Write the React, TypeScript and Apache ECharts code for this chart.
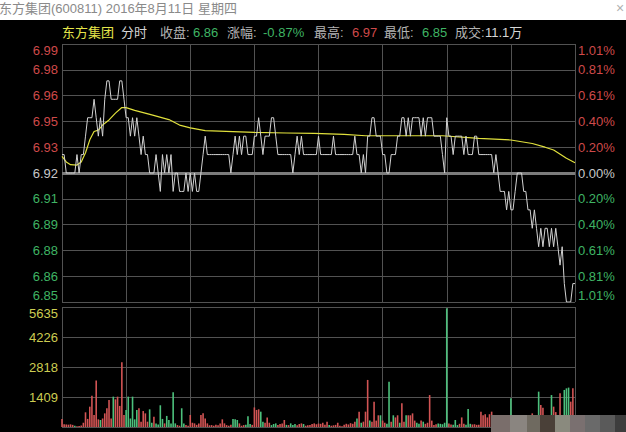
import React, { useEffect, useRef } from "react";
import * as echarts from "echarts";

const FONT = "'Liberation Sans', Arial, 'Noto Sans CJK SC', sans-serif";
const RED = "#cf4a4a";
const GREEN = "#3fb464";
const VOL_RED = "#d25454";
const VOL_GREEN = "#4cc07c";
const GRID_COLOR = "#525252";

const title = "东方集团(600811) 2016年8月11日 星期四";
const prevClose = 6.92;
const priceMin = 6.85;
const priceMax = 6.99;
const priceStep = 0.014;
const volMax = 5635;

// minute-by-minute price (0 = 9:30 ... 240 = 15:00)
const prices = [
  6.93, 6.93, 6.92, 6.92, 6.92, 6.92, 6.92, 6.93, 6.92, 6.93,
  6.93, 6.94, 6.95, 6.95, 6.95, 6.96, 6.95, 6.94, 6.95, 6.94,
  6.96, 6.97, 6.97, 6.96, 6.96, 6.96, 6.96, 6.97, 6.97, 6.96,
  6.95, 6.95, 6.94, 6.95, 6.94, 6.95, 6.94, 6.93, 6.94, 6.93,
  6.93, 6.92, 6.92, 6.92, 6.93, 6.92, 6.91, 6.93, 6.92, 6.93,
  6.92, 6.93, 6.91, 6.92, 6.92, 6.91, 6.91, 6.91, 6.92, 6.91,
  6.92, 6.91, 6.92, 6.91, 6.91, 6.92, 6.93, 6.94, 6.93, 6.93,
  6.93, 6.93, 6.93, 6.93, 6.93, 6.93, 6.93, 6.93, 6.93, 6.92,
  6.93, 6.94, 6.93, 6.94, 6.93, 6.94, 6.94, 6.93, 6.93, 6.93,
  6.94, 6.94, 6.95, 6.94, 6.93, 6.94, 6.94, 6.94, 6.95, 6.95,
  6.94, 6.93, 6.93, 6.93, 6.93, 6.93, 6.93, 6.93, 6.92, 6.93,
  6.94, 6.93, 6.94, 6.93, 6.93, 6.93, 6.93, 6.93, 6.93, 6.93,
  6.94, 6.93, 6.93, 6.93, 6.93, 6.93, 6.93, 6.94, 6.93, 6.93,
  6.93, 6.93, 6.93, 6.93, 6.93, 6.93, 6.93, 6.94, 6.93, 6.93,
  6.92, 6.93, 6.92, 6.94, 6.94, 6.95, 6.95, 6.94, 6.94, 6.94,
  6.93, 6.93, 6.92, 6.92, 6.93, 6.93, 6.93, 6.94, 6.94, 6.95,
  6.95, 6.94, 6.95, 6.94, 6.95, 6.95, 6.95, 6.95, 6.94, 6.95,
  6.94, 6.95, 6.95, 6.95, 6.94, 6.94, 6.94, 6.94, 6.93, 6.92,
  6.95, 6.94, 6.94, 6.93, 6.94, 6.94, 6.94, 6.94, 6.93, 6.94,
  6.93, 6.93, 6.93, 6.94, 6.94, 6.93, 6.93, 6.93, 6.93, 6.93,
  6.93, 6.93, 6.92, 6.93, 6.92, 6.91, 6.91, 6.91, 6.90, 6.91,
  6.90, 6.90, 6.91, 6.92, 6.92, 6.92, 6.91, 6.91, 6.90, 6.90,
  6.89, 6.90, 6.89, 6.88, 6.89, 6.88, 6.89, 6.89, 6.88, 6.89,
  6.88, 6.89, 6.88, 6.87, 6.88, 6.86, 6.85, 6.85, 6.85, 6.86,
  6.86,
];

// average price line, read as [minute, price]
const avgPoints = [
  [0, 6.929], [2, 6.926], [4, 6.9245], [7, 6.9243], [9, 6.926], [11, 6.931],
  [13, 6.938], [15, 6.9425], [17, 6.9433], [19, 6.946], [22, 6.9488], [25, 6.9525],
  [28, 6.9555], [30, 6.9555], [34, 6.954], [42, 6.9515], [50, 6.949], [55, 6.946],
  [60, 6.9445], [67, 6.943], [80, 6.9425], [90, 6.942], [105, 6.9417], [118, 6.9415],
  [132, 6.941], [142, 6.9402], [178, 6.9402], [195, 6.9388], [210, 6.9379], [220, 6.936],
  [226, 6.934], [230, 6.9325], [236, 6.928], [240, 6.9256],
];

const volumes = [
  375, 130, 120, 110, 125, 100, 60, 40, 50, 70,
  200, 690, 380, 955, 1470, 560, 2180, 360, 330, 400,
  640, 880, 1270, 400, 1425, 1300, 1425, 990, 3040, 560,
  800, 1425, 400, 1425, 360, 800, 880, 250, 750, 640,
  250, 830, 200, 485, 170, 120, 1020, 380, 170, 520,
  330, 170, 1630, 170, 90, 60, 880, 170, 90, 60,
  565, 200, 170, 100, 170, 565, 640, 400, 170, 80,
  90, 60, 100, 80, 170, 360, 170, 90, 60, 100,
  375, 360, 330, 170, 60, 90, 100, 500, 140, 100,
  920, 800, 830, 720, 250, 200, 450, 200, 90, 140,
  170, 90, 140, 170, 330, 100, 90, 170, 90, 140,
  80, 140, 170, 140, 60, 80, 90, 140, 170, 130,
  160, 150, 200, 100, 250, 90, 60, 80, 100, 200,
  60, 40, 100, 150, 120, 180, 150, 250, 400, 720,
  200, 250, 720, 2210, 300, 250, 1190, 300, 550, 550,
  300, 200, 150, 2130, 250, 550, 450, 550, 200, 1110,
  250, 550, 550, 550, 640, 300, 200, 150, 300, 250,
  150, 200, 1500, 300, 90, 130, 170, 150, 130, 200,
  5575, 170, 120, 100, 330, 90, 150, 450, 150, 100,
  845, 150, 120, 130, 100, 110, 720, 550, 600, 450,
  600, 720, 450, 150, 120, 100, 150, 120, 100, 200,
  1350, 150, 120, 100, 130, 110, 100, 150, 120, 140,
  640, 450, 500, 1660, 1030, 900, 150, 120, 200, 1500,
  955, 700, 300, 1580, 560, 1740, 1815, 1850, 1190, 1815,
  500,
];

// 1 = up (red), -1 = down (green)
const volDirection = [
  1, 1, 1, 1, 1, 1, -1, 1, 1, 1,
  1, 1, 1, 1, 1, 1, 1, 1, -1, 1,
  1, 1, 1, 1, -1, 1, 1, 1, 1, 1,
  -1, -1, -1, -1, -1, -1, 1, 1, 1, 1,
  1, -1, -1, 1, -1, -1, -1, -1, 1, -1,
  -1, -1, -1, -1, 1, 1, -1, -1, 1, 1,
  1, 1, 1, 1, 1, 1, 1, 1, 1, 1,
  1, 1, 1, 1, 1, 1, 1, 1, 1, 1,
  -1, -1, -1, 1, 1, 1, -1, -1, -1, 1,
  1, 1, 1, -1, -1, 1, 1, 1, -1, -1,
  -1, 1, 1, 1, 1, -1, 1, -1, -1, -1,
  1, 1, 1, -1, 1, 1, 1, 1, 1, 1,
  1, 1, 1, 1, 1, -1, 1, 1, 1, 1,
  1, 1, 1, 1, 1, 1, 1, 1, -1, 1,
  -1, 1, 1, 1, -1, 1, 1, 1, 1, -1,
  1, 1, -1, -1, 1, -1, 1, 1, -1, 1,
  1, -1, 1, 1, 1, 1, -1, -1, 1, -1,
  1, 1, 1, 1, 1, 1, -1, -1, -1, -1,
  -1, 1, 1, -1, -1, -1, 1, 1, 1, -1,
  -1, -1, 1, 1, 1, 1, 1, 1, 1, 1,
  1, 1, 1, 1, -1, -1, -1, -1, -1, -1,
  -1, 1, -1, -1, 1, -1, 1, -1, 1, -1,
  1, -1, 1, -1, 1, 1, 1, -1, -1, -1,
  1, 1, 1, 1, -1, -1, -1, -1, 1, 1,
  1,
];

const headerItems = [
  { text: "东方集团", x: 62, color: "#e6e64a" },
  { text: "分时", x: 121, color: "#d6d6d6" },
  { text: "收盘:", x: 160, color: "#b4b4b4" },
  { text: "6.86", x: 193, color: GREEN },
  { text: "涨幅:", x: 227, color: "#b4b4b4" },
  { text: "-0.87%", x: 263, color: GREEN },
  { text: "最高:", x: 314, color: "#b4b4b4" },
  { text: "6.97", x: 352, color: RED },
  { text: "最低:", x: 384, color: "#b4b4b4" },
  { text: "6.85", x: 422, color: GREEN },
  { text: "成交:", x: 455, color: "#b4b4b4" },
  { text: "11.1万", x: 485, color: "#d6d6d6" },
];

const mosaic = [
  { x: 491, w: 19, c: "#7a6e6b" },
  { x: 510, w: 17, c: "#8a8580" },
  { x: 527, w: 13, c: "#6f6a60" },
  { x: 540, w: 15, c: "#4a4038" },
  { x: 555, w: 15, c: "#8a8a7e" },
  { x: 570, w: 15, c: "#7a7070" },
  { x: 585, w: 15, c: "#6a6a6a" },
  { x: 600, w: 15, c: "#5a5a5a" },
  { x: 615, w: 11, c: "#3d3d3d" },
];

function priceColor(v: number) {
  const d = Math.round((Number(v) - prevClose) * 1000);
  if (d > 0) return RED;
  if (d < 0) return GREEN;
  return "#c8c8c8";
}

export default function App() {
  const ref = useRef<HTMLDivElement>(null);
  useEffect(() => {
    if (!ref.current) return;
    const chart = echarts.init(ref.current, null, { renderer: "svg" });
    const xCommon = {
      type: "value",
      min: 0,
      max: 240,
      interval: 30,
      axisLine: { show: false },
      axisTick: { show: false },
      axisLabel: { show: false },
      splitLine: { show: true, lineStyle: { color: GRID_COLOR, width: 1 } },
    };
    const graphic: any[] = [
      { type: "rect", shape: { x: 0, y: 0, width: 626, height: 20 }, style: { fill: "#ffffff" }, z: 10 },
      {
        type: "text", x: -1, y: 8, z: 11,
        style: { text: title, fill: "#8a8a8a", fontSize: 13, fontFamily: FONT, verticalAlign: "middle" },
      },
      {
        type: "text", x: 616, y: 8, z: 11,
        style: { text: "×", fill: "#b0b0b0", fontSize: 14, fontFamily: FONT, verticalAlign: "middle" },
      },
      ...headerItems.map((h) => ({
        type: "text", x: h.x, y: 32, z: 11,
        style: { text: h.text, fill: h.color, fontSize: 13, fontFamily: FONT, verticalAlign: "middle" },
      })),
      ...mosaic.map((m) => ({
        type: "rect", z: 12, shape: { x: m.x, y: 415, width: m.w, height: 17 }, style: { fill: m.c },
      })),
    ];
    chart.setOption({
      animation: false,
      backgroundColor: "#000000",
      textStyle: { fontFamily: FONT },
      grid: [
        { left: 62, right: 51, top: 44, height: 258 },
        { left: 62, right: 51, top: 307, height: 120 },
      ],
      xAxis: [
        { ...xCommon, gridIndex: 0 },
        { ...xCommon, gridIndex: 1 },
      ],
      yAxis: [
        {
          type: "value", gridIndex: 0, position: "left",
          min: priceMin, max: priceMax, interval: priceStep,
          axisLine: { show: false }, axisTick: { show: false },
          splitLine: { show: true, lineStyle: { color: GRID_COLOR, width: 1 } },
          axisLabel: {
            margin: 4, fontSize: 13, fontFamily: FONT,
            formatter: (v: number) => Number(v).toFixed(2),
            color: (v: any) => priceColor(v),
            verticalAlignMinLabel: "bottom",
            verticalAlignMaxLabel: "top",
          },
        },
        {
          type: "value", gridIndex: 0, position: "right",
          min: priceMin, max: priceMax, interval: priceStep,
          axisLine: { show: false }, axisTick: { show: false },
          splitLine: { show: false },
          axisLabel: {
            margin: 3, fontSize: 13, fontFamily: FONT, align: "left",
            formatter: (v: number) => Math.abs(((Number(v) - prevClose) / prevClose) * 100).toFixed(2) + "%",
            color: (v: any) => priceColor(v),
            verticalAlignMinLabel: "bottom",
            verticalAlignMaxLabel: "top",
          },
        },
        {
          type: "value", gridIndex: 1, position: "left",
          min: 0, max: volMax, interval: volMax / 4,
          axisLine: { show: false }, axisTick: { show: false },
          splitLine: { show: true, lineStyle: { color: GRID_COLOR, width: 1 } },
          axisLabel: {
            margin: 4, fontSize: 13, fontFamily: FONT, color: "#cdcd52",
            showMinLabel: false,
            formatter: (v: number) => String(Math.round(Number(v))),
            verticalAlignMaxLabel: "top",
          },
        },
      ],
      series: [
        {
          type: "line", xAxisIndex: 0, yAxisIndex: 0, z: 3,
          data: avgPoints, symbol: "none", silent: true,
          lineStyle: { color: "#e0e03c", width: 1.2 },
          markLine: {
            silent: true, symbol: ["none", "none"], label: { show: false },
            lineStyle: { color: "#7c7c7c", width: 3, type: "solid" },
            data: [{ yAxis: prevClose }],
          },
        },
        {
          type: "line", xAxisIndex: 0, yAxisIndex: 0, z: 5,
          data: prices.map((p, i) => [i, p]), symbol: "none", silent: true,
          lineStyle: { color: "#d2d2d2", width: 1 },
        },
        {
          type: "bar", xAxisIndex: 1, yAxisIndex: 2, barWidth: 1.6, silent: true,
          data: volumes.map((v, i) => [i, v]),
          itemStyle: { color: (p: any) => (volDirection[p.dataIndex] > 0 ? VOL_RED : VOL_GREEN) },
        },
      ],
      graphic,
    });
    return () => chart.dispose();
  }, []);
  return <div ref={ref} style={{ position: "fixed", left: 0, top: 0, width: 626, height: 432 }} />;
}
